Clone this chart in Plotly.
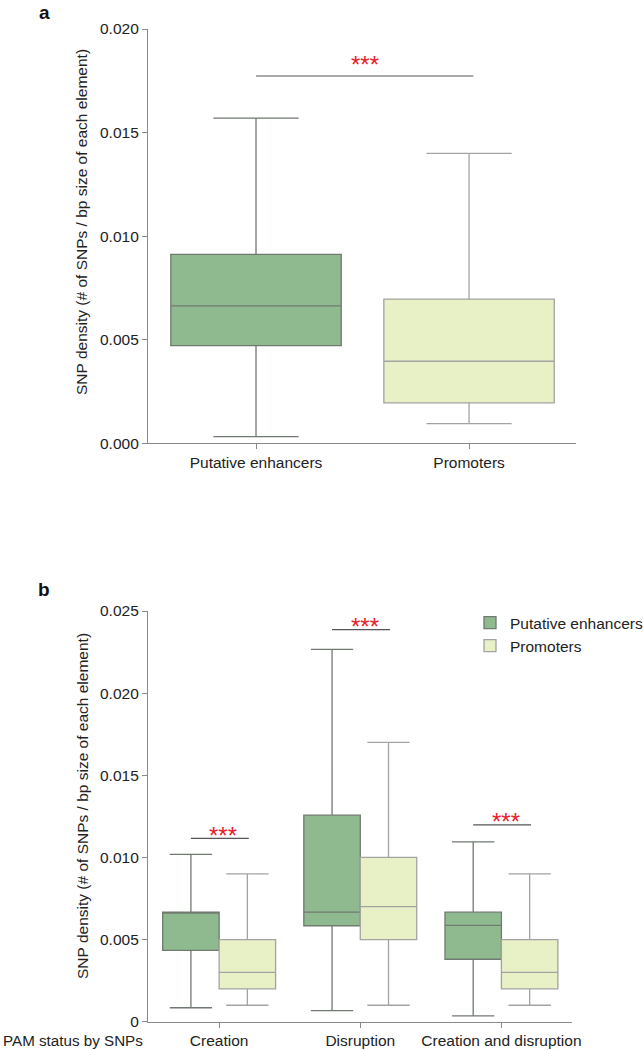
import plotly.graph_objects as go

# ---------------- data ----------------
cats_a = ["Putative enhancers", "Promoters"]
# order of stats: lower whisker, q1, median, q3, upper whisker
a_enh_stats = [0.00032, 0.00472, 0.00663, 0.00912, 0.0157]
a_prom_stats = [0.00095, 0.00195, 0.00396, 0.00696, 0.0140]
a_sig_y = 0.01773

pam_cats = ["Creation", "Disruption", "Creation and disruption"]
b_enh_lower = [0.00085, 0.00067, 0.00035]
b_enh_q1 = [0.00434, 0.00584, 0.0038]
b_enh_median = [0.00667, 0.00667, 0.00586]
b_enh_q3 = [0.00667, 0.01257, 0.00667]
b_enh_upper = [0.01018, 0.02267, 0.01095]
b_prom_lower = [0.001, 0.001, 0.001]
b_prom_q1 = [0.002, 0.005, 0.002]
b_prom_median = [0.003, 0.007, 0.003]
b_prom_q3 = [0.005, 0.010, 0.005]
b_prom_upper = [0.009, 0.017, 0.009]
b_sig_y = [0.01116, 0.02387, 0.01198]

a_ticks = [0.0, 0.005, 0.010, 0.015, 0.020]
a_ticktext = ["0.000", "0.005", "0.010", "0.015", "0.020"]
b_ticks = [0.0, 0.005, 0.010, 0.015, 0.020, 0.025]
b_ticktext = ["0", "0.005", "0.010", "0.015", "0.020", "0.025"]

# ---------------- style ----------------
W, H = 643, 1050
FONT = "Liberation Sans, Arial, Helvetica, sans-serif"
FS = 15.5
ENH_FILL = "#8fba8f"
PROM_FILL = "#e8f0c5"
ENH_LINE = "#707a70"
PROM_LINE = "#a3a3a3"
AXIS = "#8a8a8a"
TXT = "#222222"
RED = "#e8202a"

def px_x(p):
    return p / W

def px_y(p):
    return 1 - p / H

fig = go.Figure()

# Panel a
fig.add_trace(go.Box(
    x=[cats_a[0]], lowerfence=[a_enh_stats[0]], q1=[a_enh_stats[1]],
    median=[a_enh_stats[2]], q3=[a_enh_stats[3]], upperfence=[a_enh_stats[4]],
    fillcolor=ENH_FILL, line=dict(color=ENH_LINE, width=1.3), whiskerwidth=0.5,
    boxpoints=False, showlegend=False, offsetgroup="a", xaxis="x", yaxis="y",
    name="Putative enhancers", hoverinfo="skip"))
fig.add_trace(go.Box(
    x=[cats_a[1]], lowerfence=[a_prom_stats[0]], q1=[a_prom_stats[1]],
    median=[a_prom_stats[2]], q3=[a_prom_stats[3]], upperfence=[a_prom_stats[4]],
    fillcolor=PROM_FILL, line=dict(color=PROM_LINE, width=1.3), whiskerwidth=0.5,
    boxpoints=False, showlegend=False, offsetgroup="a", xaxis="x", yaxis="y",
    name="Promoters", hoverinfo="skip"))

# Panel b
fig.add_trace(go.Box(
    x=pam_cats, lowerfence=b_enh_lower, q1=b_enh_q1, median=b_enh_median,
    q3=b_enh_q3, upperfence=b_enh_upper,
    fillcolor=ENH_FILL, line=dict(color=ENH_LINE, width=1.3), whiskerwidth=0.75,
    boxpoints=False, name="Putative enhancers", offsetgroup="e",
    xaxis="x2", yaxis="y2", hoverinfo="skip"))
fig.add_trace(go.Box(
    x=pam_cats, lowerfence=b_prom_lower, q1=b_prom_q1, median=b_prom_median,
    q3=b_prom_q3, upperfence=b_prom_upper,
    fillcolor=PROM_FILL, line=dict(color=PROM_LINE, width=1.3), whiskerwidth=0.75,
    boxpoints=False, name="Promoters", offsetgroup="p",
    xaxis="x2", yaxis="y2", hoverinfo="skip"))

axis_common = dict(showline=True, linecolor=AXIS, linewidth=1.2, ticks="outside",
                   ticklen=5, tickcolor=AXIS, tickwidth=1.2, showgrid=False,
                   zeroline=False, automargin=False,
                   tickfont=dict(size=FS, color=TXT, family=FONT))

fig.update_layout(
    template="none",
    width=W, height=H, margin=dict(l=0, r=0, t=0, b=0, pad=0, autoexpand=False),
    paper_bgcolor="white", plot_bgcolor="white",
    font=dict(family=FONT, size=FS, color=TXT),
    boxmode="group", boxgap=0.2, boxgroupgap=0.0,
    xaxis=dict(domain=[px_x(148), px_x(576)], range=[-0.507, 1.502],
               type="category", anchor="y", **axis_common),
    yaxis=dict(domain=[px_y(443.3), px_y(29)], range=[0, 0.020],
               tickvals=a_ticks, ticktext=a_ticktext, anchor="x", **axis_common),
    xaxis2=dict(domain=[px_x(148), px_x(572)], range=[-0.504, 2.5],
                type="category", anchor="y2", **axis_common),
    yaxis2=dict(domain=[px_y(1021.7), px_y(611)], range=[0, 0.025],
                tickvals=b_ticks, ticktext=b_ticktext, anchor="x2", **axis_common),
    legend=dict(x=px_x(470), y=px_y(606), xanchor="left", yanchor="top",
                font=dict(size=FS, color=TXT, family=FONT),
                bgcolor="rgba(0,0,0,0)", borderwidth=0, tracegroupgap=0),
    showlegend=True,
)

shapes = []
annotations = []
# significance in a
shapes.append(dict(type="line", xref="x", yref="y", x0=0.0, x1=1.02,
                   y0=a_sig_y, y1=a_sig_y, line=dict(color="#555555", width=1.2)))
annotations.append(dict(xref="x", yref="y", x=0.51, y=a_sig_y, yshift=12,
                        text="***", showarrow=False, font=dict(size=24, color=RED)))
# significance in b
for i, yv in enumerate(b_sig_y):
    shapes.append(dict(type="line", xref="x2", yref="y2", x0=i - 0.2, x1=i + 0.21,
                       y0=yv, y1=yv, line=dict(color="#555555", width=1.2)))
    annotations.append(dict(xref="x2", yref="y2", x=i + 0.03, y=yv, yshift=3,
                            text="***", showarrow=False, font=dict(size=24, color=RED)))

ytitle = "SNP density (# of SNPs / bp size of each element)"
annotations += [
    dict(xref="paper", yref="paper", x=px_x(82), y=px_y(222), text=ytitle,
         textangle=-90, showarrow=False, xanchor="center", yanchor="middle",
         font=dict(size=FS, color=TXT)),
    dict(xref="paper", yref="paper", x=px_x(82), y=px_y(806), text=ytitle,
         textangle=-90, showarrow=False, xanchor="center", yanchor="middle",
         font=dict(size=FS, color=TXT)),
    dict(xref="paper", yref="paper", x=px_x(44), y=1.0, text="<b>a</b>",
         showarrow=False, xanchor="center", yanchor="top",
         font=dict(size=19, color="#111111")),
    dict(xref="paper", yref="paper", x=px_x(44), y=px_y(589), text="<b>b</b>",
         showarrow=False, xanchor="center", yanchor="middle",
         font=dict(size=19, color="#111111")),
    dict(xref="paper", yref="paper", x=px_x(144.5), y=px_y(1040), text="PAM status by SNPs",
         showarrow=False, xanchor="right", yanchor="middle",
         font=dict(size=15.2, color=TXT)),
]
fig.update_layout(shapes=shapes, annotations=annotations)

fig.write_html("out.html", config={"displayModeBar": False},
               post_script="document.body.style.margin='0px';")
